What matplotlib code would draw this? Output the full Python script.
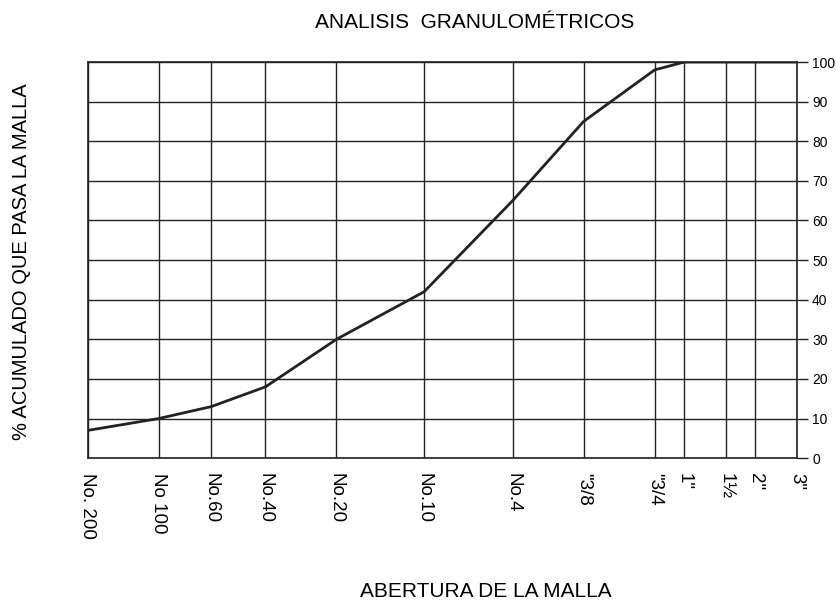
import numpy as np
import matplotlib.pyplot as plt

plt.rcParams['font.family'] = ['Liberation Sans', 'DejaVu Sans']

# Sieve openings (mm) and accumulated percent passing
abertura_mm = [0.075, 0.15, 0.25, 0.425, 0.85, 2.0, 4.75, 9.5, 19.0, 25.4, 38.1, 50.8, 76.2]
tamiz = ['No. 200', 'No 100', 'No.60', 'No.40', 'No.20', 'No.10', 'No.4',
         '"3/8', '"3/4', '1"', '1½', '2"', '3"']
pasa = [7, 10, 13, 18, 30, 42, 65, 85, 98, 100, 100, 100, 100]
y_ticks = list(range(0, 101, 10))

fig = plt.figure(figsize=(8.37, 6.02), dpi=100)
ax = fig.add_axes([0.105, 0.239, 0.847, 0.658])

ax.plot(abertura_mm, pasa, color='#222222', lw=2.0, zorder=3)

ax.set_xscale('log')
ax.set_xlim(abertura_mm[0], abertura_mm[-1])
ax.set_ylim(0, 100)

# vertical grid at every sieve, horizontal grid every 10 %
ax.set_xticks(abertura_mm)
ax.set_xticklabels(tamiz, rotation=270, fontsize=13.5, va='top', ha='center')
ax.xaxis.set_minor_locator(plt.NullLocator())
ax.tick_params(axis='x', length=0, pad=11)

ax.set_yticks(y_ticks)
ax.set_yticklabels([str(v) for v in y_ticks], fontsize=10)
ax.yaxis.tick_right()
ax.tick_params(axis='y', direction='out', length=8, width=1.0, pad=3, color='#222222')

ax.grid(True, color='#222222', lw=1.0)
for s in ax.spines.values():
    s.set_color('#222222')
    s.set_linewidth(1.2)

fig.text(0.567, 0.962, 'ANALISIS  GRANULOMÉTRICOS', ha='center', va='center', fontsize=15)
fig.text(0.026, 0.565, '% ACUMULADO QUE PASA LA MALLA', rotation=90, ha='center', va='center', fontsize=14.5)
fig.text(0.581, 0.018, 'ABERTURA DE LA MALLA', ha='center', va='center', fontsize=15)

fig.savefig('out.png', dpi=100)
